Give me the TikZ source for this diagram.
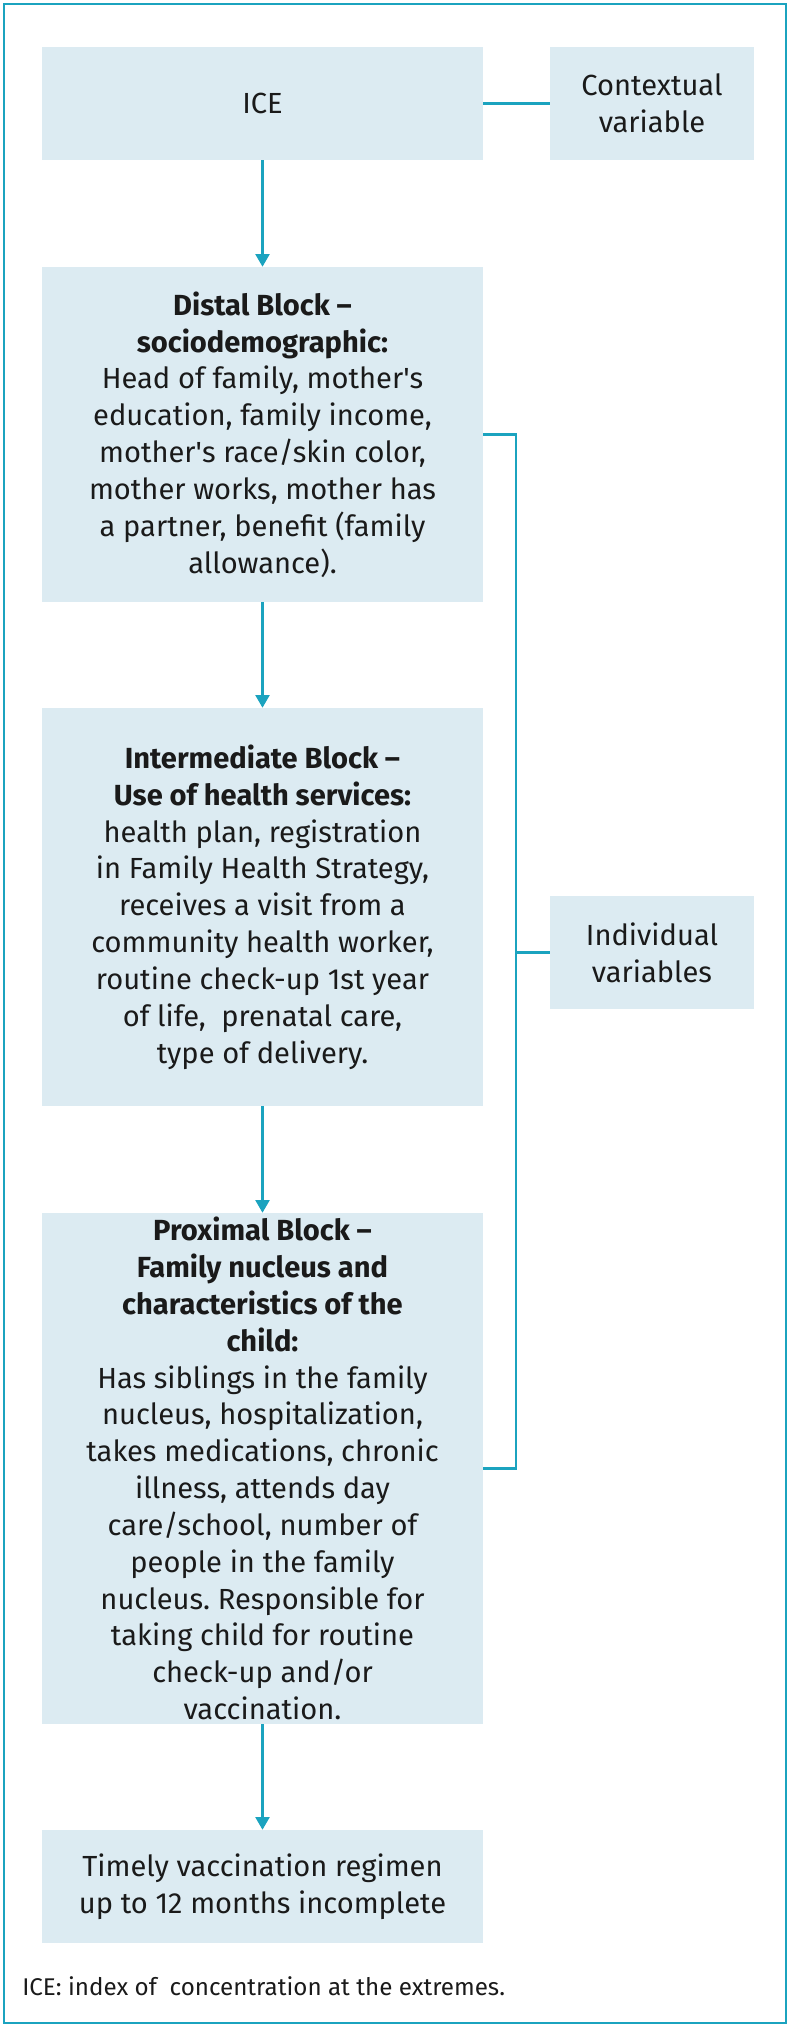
\documentclass[tikz,border=0pt]{standalone}
\usepackage{fontspec}
\setmainfont{Fira Sans}
\usepackage{tikz}
\usetikzlibrary{positioning, arrows.meta}
\frenchspacing

\definecolor{tealline}{HTML}{1BA3BF}
\definecolor{boxfill}{HTML}{DCEBF2}
\definecolor{boxtext}{HTML}{1A1A1A}

\tikzset{
  block/.style={fill=boxfill, text=boxtext, align=center, inner sep=0pt,
    minimum width=11.025cm, font=\fontsize{20.7}{26.2}\selectfont},
  sideblock/.style={block, minimum width=5.1cm, minimum height=2.825cm},
  link/.style={draw=tealline, line width=1.5pt},
  flow/.style={link, -{Triangle[width=10pt, length=9pt]}},
}

\begin{document}
\begin{tikzpicture}
        \useasboundingbox (0,0) rectangle (19.725,-50.675);
        % Frame
        \draw[tealline, line width=1.8pt] (0.1,-0.1) rectangle (19.65,-50.575);
        % Main column
        \node[block, minimum height=2.825cm] (ice) at (6.5625,-2.5875) {ICE};
        \node[block, minimum height=8.375cm] (distal) at (6.5625,-10.8625)
          {\textbf{Distal Block –}\\ \textbf{sociodemographic:}\\
           Head of family, mother\textquotesingle s\\ education, family income,\\
           mother\textquotesingle s race/skin color,\\ mother works, mother has\\
           a partner, benefit (family\\ allowance).};
        \node[block, minimum height=9.95cm] (interm) at (6.5625,-22.675)
          {\textbf{Intermediate Block –}\\ \textbf{Use of health services:}\\
           health plan, registration\\ in Family Health Strategy,\\
           receives a visit from a\\ community health worker,\\
           routine check-up 1st year\\ of life,\ \ prenatal care,\\
           type of delivery.};
        \node[block, minimum height=12.775cm] (proximal) at (6.5625,-36.7125)
          {\textbf{Proximal Block –}\\ \textbf{Family nucleus and}\\
           \textbf{characteristics of the}\\ \textbf{child:}\\
           Has siblings in the family\\ nucleus, hospitalization,\\
           takes medications, chronic\\ illness, attends day\\
           care/school, number of\\ people in the family\\
           nucleus. Responsible for\\ taking child for routine\\
           check-up and/or\\ vaccination.};
        \node[block, minimum height=2.825cm] (outcome) at (6.5625,-47.1625)
          {Timely vaccination regimen\\ up to 12 months incomplete};
        % Side labels
        \node[sideblock] (ctx) at (16.3,-2.5875) {Contextual\\ variable};
        \node[sideblock] (indiv) at (16.3,-23.8125) {Individual\\ variables};
        % Note
        \node[anchor=west, inner sep=0pt, text=boxtext,
          font=\fontsize{17.2}{20}\selectfont] (note) at (0.55,-49.65)
          {ICE: index of\ \ concentration at the extremes.};
        % Arrows
        \draw[flow] (ice) -- (distal);
        \draw[flow] (distal) -- (interm);
        \draw[flow] (interm) -- (proximal);
        \draw[flow] (proximal) -- (outcome);
        % Connectors
        \draw[link] (ice) -- (ctx);
        \draw[link] (distal.east) -- ++(0.825,0) coordinate (brk) |- (proximal.east);
        \draw[link] (indiv.west) -- (indiv.west -| brk);
    \end{tikzpicture}
\end{document}
